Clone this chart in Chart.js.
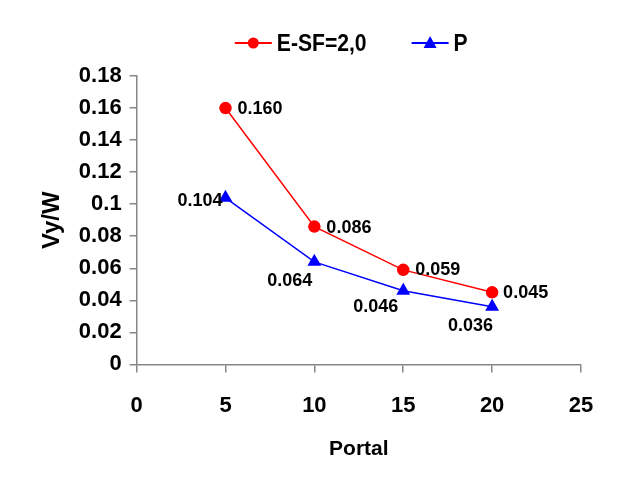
<!DOCTYPE html>
<html>
<head>
<meta charset="utf-8">
<script src="https://cdn.jsdelivr.net/npm/chart.js@4/dist/chart.umd.min.js"></script>
<style>
  html, body { margin: 0; padding: 0; background: #fff; }
  #wrap { width: 627px; height: 488px; }
</style>
</head>
<body>
<div id="wrap"><canvas id="vyChart"></canvas></div>
<script>
// values
const portals = [5, 10, 15, 20];
const esfValues = [0.160, 0.086, 0.059, 0.045];
const pValues = [0.104, 0.064, 0.046, 0.036];
const seriesNames = ['E-SF=2,0', 'P'];

const FONT = "'Liberation Sans', Arial, sans-serif";
const AXIS_GREY = '#868686';

// draws the value next to each point (no datalabels plugin available)
const valueLabels = {
  id: 'valueLabels',
  afterDatasetsDraw(chart, args, opts) {
    const ctx = chart.ctx;
    ctx.save();
    ctx.font = 'bold 18px ' + FONT;
    ctx.fillStyle = '#000';
    ctx.textBaseline = 'middle';
    chart.data.datasets.forEach((ds, i) => {
      const meta = chart.getDatasetMeta(i);
      const place = opts.place[i];
      meta.data.forEach((pt, j) => {
        const p = place[j];
        ctx.textAlign = p[2];
        ctx.fillText(ds.data[j].y.toFixed(3), pt.x + p[0], pt.y + p[1]);
      });
    });
    ctx.restore();
  }
};

// legend drawn by hand: short line with the marker, then the name
const lineLegend = {
  id: 'lineLegend',
  afterDraw(chart, args, opts) {
    const ctx = chart.ctx;
    const area = chart.chartArea;
    let x = (area.left + area.right) / 2 - opts.shift;
    const y = opts.y;
    ctx.save();
    ctx.font = 'bold 24px ' + FONT;
    ctx.textBaseline = 'middle';
    chart.data.datasets.forEach((ds, i) => {
      const c = ds.borderColor;
      ctx.strokeStyle = c; ctx.fillStyle = c; ctx.lineWidth = 2;
      ctx.beginPath(); ctx.moveTo(x, y); ctx.lineTo(x + 37, y); ctx.stroke();
      const mx = x + 18.5;
      ctx.beginPath();
      if (ds.pointStyle === 'circle') {
        ctx.arc(mx, y, 5.5, 0, Math.PI * 2);
      } else {
        ctx.moveTo(mx, y - 7); ctx.lineTo(mx + 6.5, y + 5); ctx.lineTo(mx - 6.5, y + 5); ctx.closePath();
      }
      ctx.fill();
      x += 42;
      const w = ctx.measureText(ds.label).width * opts.squeeze;
      ctx.save();
      ctx.translate(x, y + 1);
      ctx.scale(opts.squeeze, 1);
      ctx.fillStyle = '#000';
      ctx.textAlign = 'left';
      ctx.fillText(ds.label, 0, 0);
      ctx.restore();
      x += w + 45;
    });
    ctx.restore();
  }
};

const ctx = document.getElementById('vyChart');
const myChart = new Chart(ctx, {
  type: 'line',
  data: {
    datasets: [{
      label: seriesNames[0],
      data: portals.map((x, i) => ({ x: x, y: esfValues[i] })),
      borderColor: '#ff0000',
      backgroundColor: '#ff0000',
      borderWidth: 1.5,
      pointStyle: 'circle',
      pointRadius: 5.5,
      pointHoverRadius: 5.5
    }, {
      label: seriesNames[1],
      data: portals.map((x, i) => ({ x: x, y: pValues[i] })),
      borderColor: '#0000ff',
      backgroundColor: '#0000ff',
      borderWidth: 1.5,
      pointStyle: 'triangle',
      pointRadius: 6.5,
      pointHoverRadius: 6.5
    }]
  },
  options: {
    responsive: true,
    maintainAspectRatio: false,
    animation: false,
    layout: { padding: { top: 76, right: 46, bottom: 22, left: 34 } },
    plugins: {
      tooltip: { enabled: false },
      legend: { display: false },
      lineLegend: { y: 43, shift: 124, squeeze: 0.88 },
      valueLabels: {
        // [dx, dy, align] per point
        place: [
          [[12, 1, 'left'], [12, 1, 'left'], [12, 0, 'left'], [11, 1, 'left']],
          [[-3, 3, 'right'], [-2, 19, 'right'], [-5, 16, 'right'], [1, 19, 'right']]
        ]
      }
    },
    scales: {
      x: {
        type: 'linear',
        min: 0, max: 25,
        ticks: { stepSize: 5, color: '#000', padding: 20, font: { family: FONT, size: 22, weight: 'bold' } },
        grid: { drawOnChartArea: false, drawTicks: true, tickLength: 8, color: AXIS_GREY, lineWidth: 1.5 },
        border: { color: AXIS_GREY, width: 1.5 },
        title: { display: true, text: 'Portal', color: '#000', padding: { top: -2 }, font: { family: FONT, size: 21, weight: 'bold' } }
      },
      y: {
        min: 0, max: 0.18,
        ticks: {
          stepSize: 0.02, color: '#000', padding: 8,
          font: { family: FONT, size: 22, weight: 'bold' },
          callback: v => String(Math.round(v * 100) / 100)
        },
        grid: { drawOnChartArea: false, drawTicks: true, tickLength: 7, color: AXIS_GREY, lineWidth: 1.5 },
        border: { color: AXIS_GREY, width: 1.5 },
        title: { display: true, text: 'Vy/W', color: '#000', padding: { bottom: 4 }, font: { family: FONT, size: 24, weight: 'bold' } }
      }
    }
  },
  plugins: [valueLabels, lineLegend]
});
</script>
</body>
</html>
